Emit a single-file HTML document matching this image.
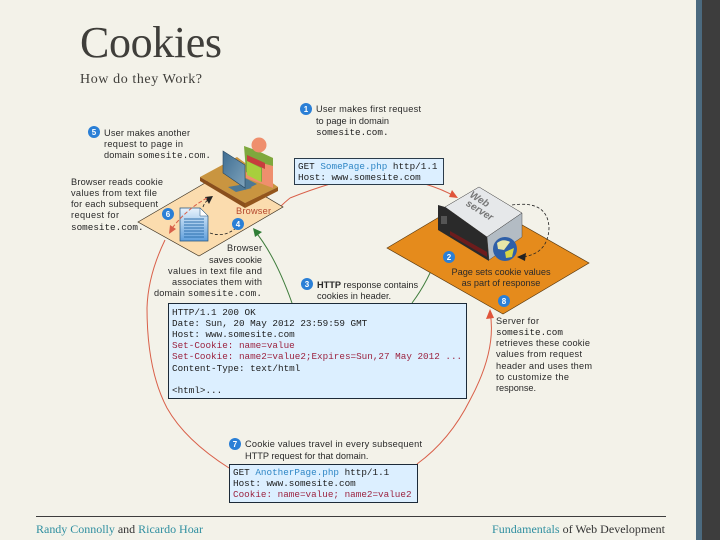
<!DOCTYPE html>
<html><head><meta charset="utf-8"><style>
html,body{margin:0;padding:0;background:#f3f2e9}
svg{display:block}
.t{font:9.2px "Liberation Sans",sans-serif;fill:#2a2a2a}
.m{font:9.3px "Liberation Mono",monospace;fill:#1c1c1c}
.s{font:9.3px "Liberation Mono",monospace}
.n{font:bold 8px "Liberation Sans",sans-serif;fill:#fff;text-anchor:middle}
.r{fill:#9c2440}.b{fill:#2f86c5}
</style></head><body>
<svg width="720" height="540" viewBox="0 0 720 540" xmlns="http://www.w3.org/2000/svg">
<defs><filter id="bl"><feGaussianBlur stdDeviation="0.3"/></filter>
<linearGradient id="doc" x1="0" y1="0" x2="0" y2="1"><stop offset="0" stop-color="#e8f3fc"/><stop offset="1" stop-color="#5f9fdc"/></linearGradient>
<linearGradient id="mon" x1="0" y1="0" x2="1" y2="1"><stop offset="0" stop-color="#3e6d92"/><stop offset="1" stop-color="#7fa3bb"/></linearGradient>
</defs>
<rect width="720" height="540" fill="#f3f2e9"/>
<rect x="696" width="6" height="540" fill="#4b6a7f"/>
<rect x="702" width="18" height="540" fill="#3d3d3d"/>
<text x="80" y="57" style="font:44px 'Liberation Serif',serif;fill:#3f3e3a" textLength="142">Cookies</text>
<text x="80" y="83" style="font:14px 'Liberation Serif',serif;fill:#3f3e3a" textLength="122">How do they Work?</text>

<g filter="url(#bl)">
<!-- arcs -->
<g fill="none" stroke="#d9604a" stroke-width="1">
<path d="M280 207Q285 202 290 198"/><path d="M290 198Q310 190 330 184"/>
<path d="M425 184Q442 189 456 197"/>
<path d="M165 240Q148 275 147 308Q147 370 167 408Q185 440 229 468"/>
<path d="M417 464Q450 440 470 400Q497 350 490 312"/>
</g>
<path d="M458 198L449 197L452 190Z" fill="#e0553a"/>
<path d="M490 309L486 319L494 318Z" fill="#e0553a"/>
<g fill="none" stroke="#3f7d3c" stroke-width="1">
<path d="M443 237Q433 275 412 303"/><path d="M292 303Q275 255 254 230"/>
</g>
<path d="M253 228L255 237L262 232Z" fill="#2f7d35"/>

<!-- orange diamond -->
<path d="M387 248L473 197L589 263L503 314Z" fill="#e58b1f" stroke="#5a3a10" stroke-width=".7"/>
<!-- browser diamond -->
<path d="M138 222L224 172L283 207L199 256Z" fill="#fbdcae" stroke="#3b3020" stroke-width=".7"/>
<!-- desk -->
<path d="M200 177L237 157L278 187L245 203Z" fill="#c9953f"/>
<path d="M200 177L245 203L245 208L200 181Z" fill="#8a4f1c"/>
<path d="M245 203L278 187L278 191L245 208Z" fill="#94561f"/>
<!-- person -->
<path d="M245 147L273 158L273 188L246 178Z" fill="#ef8f6d"/>
<path d="M244 146L258 151L273 158L273 166L262 163L262 182L246 172Z" fill="#7ea83c"/>
<path d="M247 155L265 163L265 169L247 161Z" fill="#c73c3c"/>
<path d="M247 161L261 168L261 182L247 175Z" fill="#a8cf3e"/>
<circle cx="259" cy="145" r="7.5" fill="#ef8f6d"/>
<!-- monitor -->
<path d="M228 187L245 184L252 188L236 192Z" fill="#4d7895"/>
<path d="M245 178L257 184L245 190Z" fill="#4d7895"/>
<path d="M223 151L245 165L245 188L223 173Z" fill="url(#mon)" stroke="#27465f" stroke-width=".6"/>
<!-- doc -->
<path d="M180 208H200L208 216V241H180Z" fill="url(#doc)" stroke="#23527c" stroke-width=".7"/>
<path d="M200 208L208 216H200Z" fill="#fff" stroke="#23527c" stroke-width=".5"/>
<g stroke="#2f6fae" stroke-width=".9"><path d="M184 219H204M184 222H204M184 225H204M184 228H204M184 231H204M184 234H204M184 237H204"/></g>
<!-- dashes browser -->
<g fill="none" stroke="#222" stroke-width=".8" stroke-dasharray="3 2"><path d="M210 233Q224 238 236 228"/><path d="M203 207Q205 201 211 198"/></g>
<path d="M213 196L205 197L209 204Z" fill="#222"/>
<path d="M207 198Q185 210 170 231" fill="none" stroke="#d9604a" stroke-width="1" stroke-dasharray="4 2"/>
<path d="M169 234L170 225L176 229Z" fill="#d9604a"/>

<!-- server -->
<path d="M445 207L479 187L522 213L487 237Z" fill="#e6e8ea" stroke="#333" stroke-width=".5"/>
<path d="M487 237L522 213V237L489 260Z" fill="#b3bcc4" stroke="#333" stroke-width=".4"/>
<path d="M438 205L445 207L487 237L489 261L438 230Z" fill="#2b2b2b"/>
<path d="M450 231L487 252L487 257L450 235Z" fill="#6d1b1e"/>
<rect x="441" y="216" width="6" height="8" fill="#555"/>
<text transform="translate(478 202) rotate(32)" text-anchor="middle" style="font:italic bold 10px 'Liberation Sans',sans-serif;fill:#777">Web</text>
<text transform="translate(478 213) rotate(32)" text-anchor="middle" style="font:italic bold 10px 'Liberation Sans',sans-serif;fill:#777">server</text>
<circle cx="505" cy="249" r="12" fill="#2f5fa8"/>
<path d="M497 243Q503 238 510 242L504 250L498 249Z" fill="#e7e6a8"/><path d="M505 252L514 248L512 257L506 258Z" fill="#d7d545"/>
<path d="M512 205Q548 200 549 228Q548 254 522 257" fill="none" stroke="#222" stroke-width=".8" stroke-dasharray="3 2"/>
<path d="M517 257L526 253L525 261Z" fill="#222"/>

<!-- boxes -->
<rect x="294.500" y="158.500" width="149" height="26" fill="#dcefff" stroke="#2a3a4a"/>
<rect x="168.500" y="303.500" width="298" height="95" fill="#dcefff" stroke="#1c2a38"/>
<rect x="229.500" y="464.500" width="188" height="38" fill="#dcefff" stroke="#1c2a38"/>

<!-- numbers -->
<g fill="#2a7fd6">
<circle cx="306" cy="109" r="6"/><circle cx="449" cy="257" r="6"/><circle cx="307" cy="284" r="6"/><circle cx="238" cy="224" r="6"/><circle cx="94" cy="132" r="6"/><circle cx="168" cy="214" r="6"/><circle cx="235" cy="444" r="6"/><circle cx="504" cy="301" r="6"/>
</g>
<text class="n" x="306" y="112">1</text><text class="n" x="449" y="260">2</text><text class="n" x="307" y="287">3</text><text class="n" x="238" y="227">4</text><text class="n" x="94" y="135">5</text><text class="n" x="168" y="217">6</text><text class="n" x="235" y="447">7</text><text class="n" x="504" y="304">8</text>

<!-- labels -->
<text class="t" x="316" y="112" textLength="105">User makes first request</text>
<text class="t" x="316" y="124">to page in  domain</text>
<text class="s" x="316" y="135" fill="#222">somesite.com.</text>

<text class="t" x="104" y="136" textLength="86">User makes another</text>
<text class="t" x="104" y="147" textLength="79">request to page in</text>
<text class="t" x="104" y="158" textLength="107">domain <tspan class="s">somesite.com.</tspan></text>

<text class="t" x="71" y="185" textLength="92">Browser reads cookie</text>
<text class="t" x="71" y="196" textLength="86">values from text file</text>
<text class="t" x="71" y="207" textLength="87">for each subsequent</text>
<text class="t" x="71" y="218" textLength="48">request for</text>
<text class="s" x="71" y="230" fill="#222">somesite.com.</text>

<text x="236" y="214" style="font:9.200px 'Liberation Sans',sans-serif;fill:#b5482f" textLength="35">Browser</text>

<text class="t" x="227" y="251" textLength="35">Browser</text>
<text class="t" x="209" y="263" textLength="53">saves cookie</text>
<text class="t" x="168" y="274" textLength="94">values in text file and</text>
<text class="t" x="172" y="285" textLength="90">associates them with</text>
<text class="t" x="154" y="296" textLength="108">domain <tspan class="s">somesite.com.</tspan></text>

<g text-anchor="middle">
<text class="t" x="501" y="275">Page sets cookie values</text>
<text class="t" x="501" y="286">as part of response</text>
</g>

<text class="t" x="317" y="288"><tspan font-weight="bold">HTTP</tspan> response contains</text>
<text class="t" x="317" y="299">cookies in header.</text>

<text class="t" x="496" y="324" textLength="43">Server for</text>
<text class="s" x="496" y="335" fill="#222">somesite.com</text>
<text class="t" x="496" y="346" textLength="94">retrieves these cookie</text>
<text class="t" x="496" y="357" textLength="86">values from request</text>
<text class="t" x="496" y="369" textLength="96">header and uses them</text>
<text class="t" x="496" y="380" textLength="73">to customize the</text>
<text class="t" x="496" y="391" textLength="40">response.</text>

<text class="t" x="245" y="447" textLength="177">Cookie values travel in every subsequent</text>
<text class="t" x="245" y="459">HTTP request for that domain.</text>

<text class="m" x="298" y="169">GET <tspan class="b">SomePage.php</tspan> http/1.1</text>
<text class="m" x="298" y="180">Host: www.somesite.com</text>

<text class="m" x="172" y="315">HTTP/1.1 200 OK</text>
<text class="m" x="172" y="326">Date: Sun, 20 May 2012 23:59:59 GMT</text>
<text class="m" x="172" y="337">Host: www.somesite.com</text>
<text class="m r" x="172" y="348">Set-Cookie: name=value</text>
<text class="m r" x="172" y="359">Set-Cookie: name2=value2;Expires=Sun,27 May 2012 ...</text>
<text class="m" x="172" y="371">Content-Type: text/html</text>
<text class="m" x="172" y="393">&lt;html&gt;...</text>

<text class="m" x="233" y="475">GET <tspan class="b">AnotherPage.php</tspan> http/1.1</text>
<text class="m" x="233" y="486">Host: www.somesite.com</text>
<text class="m r" x="233" y="497">Cookie: name=value; name2=value2</text>
</g>

<rect x="36" y="516" width="630" height="1" fill="#3d3d3d"/>
<text x="36" y="533" textLength="167" style="font:12px 'Liberation Serif',serif;fill:#2f8fa0">Randy Connolly <tspan fill="#333">and</tspan> Ricardo Hoar</text>
<text x="492" y="533" textLength="173" style="font:12px 'Liberation Serif',serif;fill:#2f8fa0">Fundamentals <tspan fill="#333">of Web Development</tspan></text>
</svg>
</body></html>
